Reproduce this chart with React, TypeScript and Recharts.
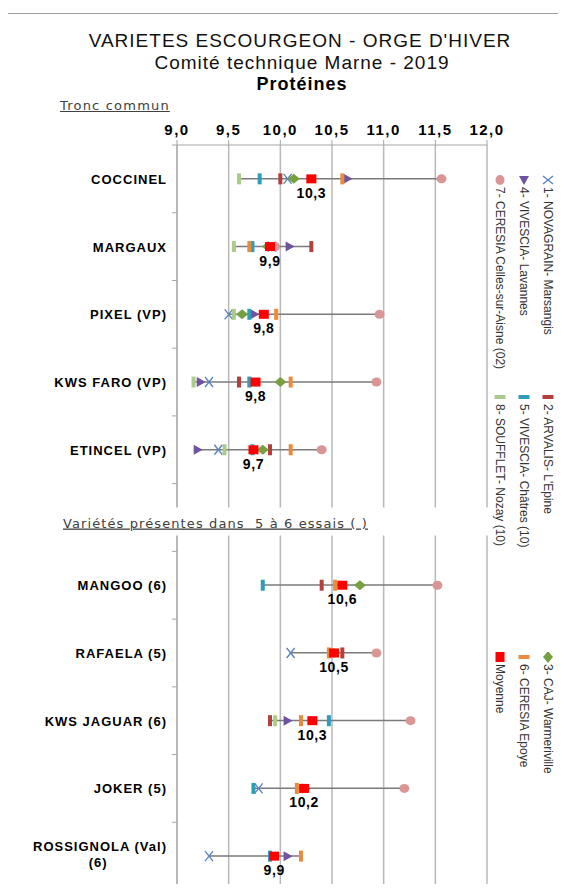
import React from 'react';
import {
    ComposedChart, Bar, Line, XAxis, YAxis, CartesianGrid, Legend, LabelList,
} from 'recharts';

const SECTION = 'Variétés présentes dans  5 à 6 essais ( )';

const varieties = [
    'COCCINEL', 'MARGAUX', 'PIXEL (VP)', 'KWS FARO (VP)', 'ETINCEL (VP)',
    SECTION,
    'MANGOO (6)', 'RAFAELA (5)', 'KWS JAGUAR (6)', 'JOKER (5)', 'ROSSIGNOLA (Val)\n(6)',
];

// protein (%) per trial site, one value per variety row (null = not in that trial)
const s1Novagrain = [10.07, 9.92, 9.5, 9.31, 9.4, null, null, 10.1, null, 9.79, 9.31];
const s2Arvalis = [10.0, 10.3, null, 9.6, 9.9, null, 10.4, 10.6, 9.9, null, null];
const s3Caj = [10.13, 9.88, 9.63, 10.0, 9.83, null, 10.77, 10.52, null, null, null];
const s4Lavannes = [10.65, 10.09, 9.75, 9.23, 9.2, null, null, null, 10.07, 10.25, 10.07];
const s5Chatres = [9.8, 9.73, 9.7, 9.7, 9.73, null, 9.83, null, 10.47, 9.74, 9.9];
const s6Epoye = [10.6, 9.7, 9.96, 10.1, 10.1, null, 10.53, 10.47, 10.2, 10.16, 10.2];
const s7Celles = [11.56, 9.95, 10.96, 10.93, 10.4, null, 11.52, 10.93, 11.26, 11.2, null];
const s8Nozay = [9.6, 9.55, 9.55, 9.16, 9.46, null, null, null, 9.95, null, null];
const moyenne = [10.3, 9.9, 9.84, 9.76, 9.74, null, 10.6, 10.52, 10.31, 10.23, 9.94];

const xTicks = [9, 9.5, 10, 10.5, 11, 11.5, 12];

type Shape = 'x' | 'bar' | 'diamond' | 'tri' | 'circle' | 'square';

const SERIES: { key: string; name: string; color: string; shape: Shape; values: (number | null)[] }[] = [
    { key: 's1', name: '1- NOVAGRAIN- Marsangis', color: '#5b84c0', shape: 'x', values: s1Novagrain },
    { key: 's2', name: "2- ARVALIS- L'Epine", color: '#b3403d', shape: 'bar', values: s2Arvalis },
    { key: 's3', name: '3- CAJ- Warmeriville', color: '#77a041', shape: 'diamond', values: s3Caj },
    { key: 's4', name: '4- VIVESCIA- Lavannes', color: '#6f53a0', shape: 'tri', values: s4Lavannes },
    { key: 's5', name: '5- VIVESCIA- Châtres (10)', color: '#2f9cba', shape: 'bar', values: s5Chatres },
    { key: 's6', name: '6- CERESIA Epoye', color: '#e98a3c', shape: 'bar', values: s6Epoye },
    { key: 's7', name: '7- CERESIA Celles-sur-Aisne (02)', color: '#d99694', shape: 'circle', values: s7Celles },
    { key: 's8', name: '8- SOUFFLET- Nozay (10)', color: '#abcb8c', shape: 'bar', values: s8Nozay },
    { key: 'moy', name: 'Moyenne', color: '#ff0000', shape: 'square', values: moyenne },
];

const rows = varieties.map((name, i) => {
    const row: any = { name };
    const vals: number[] = [];
    SERIES.forEach((s) => {
        row[s.key] = s.values[i];
        if (s.values[i] != null) vals.push(s.values[i] as number);
    });
    row.range = vals.length ? [Math.min(...vals), Math.max(...vals)] : null;
    return row;
});

const CHART_W = 566;
const CHART_H = 892;
const MARGIN = { top: 100, right: 79, bottom: 2, left: 7 };
const X_AXIS_H = 45;
const BAND = (CHART_H - MARGIN.top - X_AXIS_H - MARGIN.bottom) / varieties.length;

const fmt = (v: any) => (v == null ? '' : Number(v).toFixed(1).replace('.', ','));

function Mark({ shape, color, cx, cy }: { shape: Shape; color: string; cx: number; cy: number }) {
    switch (shape) {
        case 'x':
            return (
                <g stroke={color} strokeWidth={1.4}>
                    <line x1={cx - 4} y1={cy - 5} x2={cx + 4} y2={cy + 5} />
                    <line x1={cx - 4} y1={cy + 5} x2={cx + 4} y2={cy - 5} />
                </g>
            );
        case 'bar':
            return <rect x={cx - 2} y={cy - 5.5} width={4} height={11} fill={color} />;
        case 'diamond':
            return <polygon points={`${cx - 6},${cy} ${cx},${cy - 5} ${cx + 6},${cy} ${cx},${cy + 5}`} fill={color} />;
        case 'tri':
            return <polygon points={`${cx - 4},${cy - 5} ${cx + 5},${cy} ${cx - 4},${cy + 5}`} fill={color} />;
        case 'circle':
            return <ellipse cx={cx} cy={cy} rx={5} ry={4.5} fill={color} />;
        default:
            return <rect x={cx - 5} y={cy - 4.5} width={10} height={9} fill={color} />;
    }
}

const dotFor = (shape: Shape, color: string) => (props: any) => {
    const { cx, cy, value, index } = props;
    if (cx == null || cy == null || value == null) return <g key={`e-${index}`} />;
    return (
        <g key={`d-${index}`}>
            <Mark shape={shape} color={color} cx={cx} cy={cy} />
        </g>
    );
};

function YTick({ x, y, payload, index }: any) {
    const label: string = payload.value;
    const axisX = x + 8;
    // Excel-style category ticks sit between rows
    const ticks = (
        <g stroke="#a6a6a6" strokeWidth={1}>
            <line x1={axisX - 5} x2={axisX} y1={y - BAND / 2} y2={y - BAND / 2} />
            {index === varieties.length - 1 && (
                <line x1={axisX - 5} x2={axisX} y1={y + BAND / 2} y2={y + BAND / 2} />
            )}
        </g>
    );
    if (label === SECTION) {
        return (
            <g>
                {ticks}
                <rect x={10} y={y - 10} width={486} height={28} fill="#fff" />
                <text x={63} y={y + 10} fontFamily="DejaVu Sans" fontSize={13} letterSpacing={1.1}
                    fill="#404040" textDecoration="underline" style={{ whiteSpace: 'pre' }}>{label}</text>
            </g>
        );
    }
    const lines = label.split('\n');
    const style = { fontFamily: 'Liberation Sans, Arial', fontSize: 13, fontWeight: 700, letterSpacing: 1 };
    if (lines.length > 1) {
        const w = lines[0].length * 8.6;
        return (
            <g>
                {ticks}
                <text x={x - 2} y={y - 5} textAnchor="end" fill="#000" style={style}>{lines[0]}</text>
                <text x={x - 2 - w / 2} y={y + 11} textAnchor="middle" fill="#000" style={style}>{lines[1]}</text>
            </g>
        );
    }
    return (
        <g>
            {ticks}
            <text x={x - 2} y={y + 5} textAnchor="end" fill="#000" style={style}>{label}</text>
        </g>
    );
}

const legendCols = [548, 524, 500];
const legendRows = [175, 392, 652];

function RotatedLegend() {
    return (
        <div style={{ position: 'absolute', left: 0, top: 0, width: CHART_W, height: CHART_H }}>
            {SERIES.map((s, k) => (
                <div key={s.key} style={{
                    position: 'absolute', left: legendCols[Math.floor(k / 3)] + 7, top: legendRows[k % 3],
                    transform: 'rotate(90deg)', transformOrigin: '0 0', whiteSpace: 'nowrap',
                    display: 'flex', alignItems: 'center', height: 14, lineHeight: '14px',
                    fontFamily: 'Liberation Sans, Arial', fontSize: 12, color: '#333',
                }}>
                    <svg width={11} height={14} style={{ marginRight: 1 }}>
                        <Mark shape={s.shape} color={s.color} cx={5} cy={7} />
                    </svg>
                    {s.name}
                </div>
            ))}
        </div>
    );
}

export default function App() {
    return (
        <div style={{
            position: 'relative', width: CHART_W, height: CHART_H, margin: -8, overflow: 'hidden',
            background: '#fff', fontFamily: 'Liberation Sans, Arial',
        }}>
            <div style={{ position: 'absolute', left: 7, top: 13, width: 620, height: 920, border: '1px solid #a0a0a0' }} />
            <div style={{ position: 'absolute', left: 0, width: 600, top: 31, textAlign: 'center', fontSize: 19, lineHeight: '19px', letterSpacing: 1, color: '#111' }}>
                VARIETES ESCOURGEON - ORGE D'HIVER
            </div>
            <div style={{ position: 'absolute', left: 0, width: 604, top: 53, textAlign: 'center', fontSize: 19, lineHeight: '19px', letterSpacing: 1, color: '#111' }}>
                Comité technique Marne - 2019
            </div>
            <div style={{ position: 'absolute', left: 0, width: 604, top: 75, textAlign: 'center', fontSize: 18, lineHeight: '18px', fontWeight: 700, letterSpacing: 1, color: '#000' }}>
                Protéines
            </div>
            <div style={{ position: 'absolute', left: 60, top: 98, fontFamily: 'DejaVu Sans', fontSize: 13, lineHeight: '15px', letterSpacing: 1.2, color: '#404040', textDecoration: 'underline' }}>
                Tronc commun
            </div>
            <div style={{ position: 'absolute', left: 0, top: 0 }}>
                <ComposedChart width={CHART_W} height={CHART_H} data={rows} layout="vertical" margin={MARGIN}>
                    <CartesianGrid xAxisId="top" horizontal={false} stroke="#b8b8b8" strokeWidth={1.5} />
                    <XAxis xAxisId="top" type="number" orientation="top" domain={[9, 12]} ticks={xTicks}
                        tickFormatter={fmt} height={X_AXIS_H} tickSize={5} tickMargin={5} stroke="#a6a6a6"
                        tick={{ fill: '#000', fontSize: 15, fontWeight: 700, letterSpacing: 1.5 }} />
                    <XAxis xAxisId="bot" type="number" orientation="bottom" domain={[9, 12]} height={0}
                        tick={false} tickLine={false} stroke="#a6a6a6" />
                    <YAxis type="category" dataKey="name" width={170} interval={0} tickLine={false}
                        stroke="#a6a6a6" tick={<YTick />} />
                    <Legend layout="horizontal" verticalAlign="middle" align="center"
                        wrapperStyle={{ left: 0, top: 0, width: CHART_W, height: CHART_H }}
                        content={() => <RotatedLegend />} />
                    <Bar xAxisId="top" dataKey="range" barSize={1.5} fill="#7a7a7a" isAnimationActive={false} />
                    {SERIES.map((s) => (
                        <Line key={s.key} xAxisId="top" dataKey={s.key} name={s.name} stroke="none"
                            dot={dotFor(s.shape, s.color)} activeDot={false} isAnimationActive={false}>
                            {s.key === 'moy' && (
                                <LabelList dataKey="moy" position="bottom" offset={9} formatter={fmt}
                                    style={{ fill: '#000', fontSize: 14, fontWeight: 700, letterSpacing: 0.6 }} />
                            )}
                        </Line>
                    ))}
                </ComposedChart>
            </div>
        </div>
    );
}
